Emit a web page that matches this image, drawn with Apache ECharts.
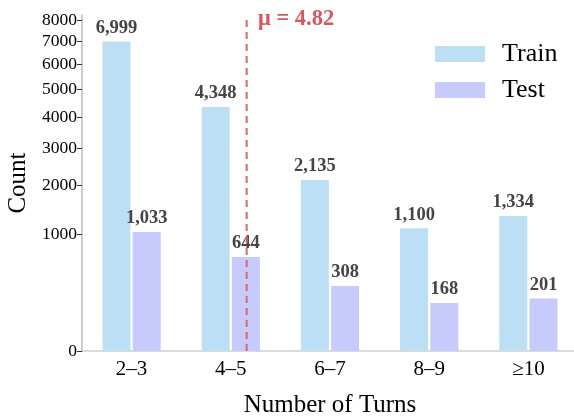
<!DOCTYPE html>
<html><head><meta charset="utf-8">
<script src="https://cdn.jsdelivr.net/npm/echarts@6/dist/echarts.min.js"></script>
<style>html,body{margin:0;padding:0;background:#fff}#c{width:574px;height:417px}</style>
</head><body><div id="c"></div>
<script>
const categories = ['2–3', '4–5', '6–7', '8–9', '≥10'];
const trainCounts = [6999, 4348, 2135, 1100, 1334];
const testCounts = [1033, 644, 308, 168, 201];
const yTicks = [0, 1000, 2000, 3000, 4000, 5000, 6000, 7000, 8000];
const yMaxValue = 8250;
const meanTurns = 4.82;
// category centers correspond to 2.5, 4.5, 6.5, 8.5, 10.5 turns
const catStart = 2.5, catStep = 2;

const font = 'Liberation Serif';
const sq = v => Math.sqrt(v);
const fmt = v => v.toLocaleString('en-US');
const meanPos = (meanTurns - catStart) / catStep;

const chart = echarts.init(document.getElementById('c'));
chart.setOption({
  animation: false,
  textStyle: { fontFamily: font },
  grid: { left: 82, right: -4, top: 15, bottom: 66, containLabel: false, outerBoundsMode: 'none' },
  legend: {
    orient: 'vertical', left: 430, top: 36, icon: 'rect',
    itemWidth: 50, itemHeight: 16, itemGap: 10,
    textStyle: { fontFamily: font, fontSize: 26, color: '#000', padding: [0, 0, 0, 12] },
    data: ['Train', 'Test']
  },
  xAxis: [{
    type: 'category', data: categories, position: 'bottom',
    axisLine: { onZero: false, lineStyle: { color: '#d0d0d0', width: 1.5 } },
    axisTick: { alignWithLabel: true, length: 5, lineStyle: { color: '#333' } },
    axisLabel: { fontFamily: font, fontSize: 21, color: '#000', margin: 8 },
    name: 'Number of Turns', nameLocation: 'middle', nameGap: 42,
    nameTextStyle: { fontFamily: font, fontSize: 25, color: '#000' }
  }, {
    type: 'value', min: -0.5, max: categories.length - 0.5, show: false
  }],
  yAxis: {
    type: 'value', min: 0, max: sq(yMaxValue), position: 'left',
    splitLine: { show: false },
    axisLine: { show: true, onZero: false, lineStyle: { color: '#bcbcbc', width: 1.5 } },
    axisTick: { show: true, length: 5, lineStyle: { color: '#333' }, customValues: yTicks.map(sq) },
    axisLabel: { fontFamily: font, fontSize: 17.5, color: '#000', margin: 5,
      customValues: yTicks.map(sq), formatter: v => String(Math.round(v * v)) },
    name: 'Count', nameLocation: 'middle', nameGap: 51,
    nameTextStyle: { fontFamily: font, fontSize: 25, color: '#000' }
  },
  series: [{
    name: 'Train', type: 'bar', barWidth: 28, barGap: '8%',
    data: trainCounts.map(sq),
    itemStyle: { color: '#bddff6' },
    label: { show: true, position: 'top', distance: 4, fontFamily: font, fontWeight: 'bold', fontSize: 18.5, color: '#444',
      formatter: p => fmt(trainCounts[p.dataIndex]) }
  }, {
    name: 'Test', type: 'bar', barWidth: 28,
    data: testCounts.map(sq),
    itemStyle: { color: '#c7cbfc' },
    label: { show: true, position: 'top', distance: 4, fontFamily: font, fontWeight: 'bold', fontSize: 18.5, color: '#444',
      formatter: p => fmt(testCounts[p.dataIndex]) }
  }, {
    name: 'mean', type: 'line', xAxisIndex: 1, symbol: 'none', z: 5,
    data: [[meanPos, 0], [meanPos, sq(yMaxValue)]],
    lineStyle: { color: '#d9686b', width: 2, type: [7, 5] }
  }],
  graphic: [{
    type: 'text', left: 258, top: 8,
    style: { text: 'μ = ' + meanTurns.toFixed(2), fill: '#d9575b', font: 'bold 22.5px "Liberation Serif"' }
  }]
});
</script></body></html>
